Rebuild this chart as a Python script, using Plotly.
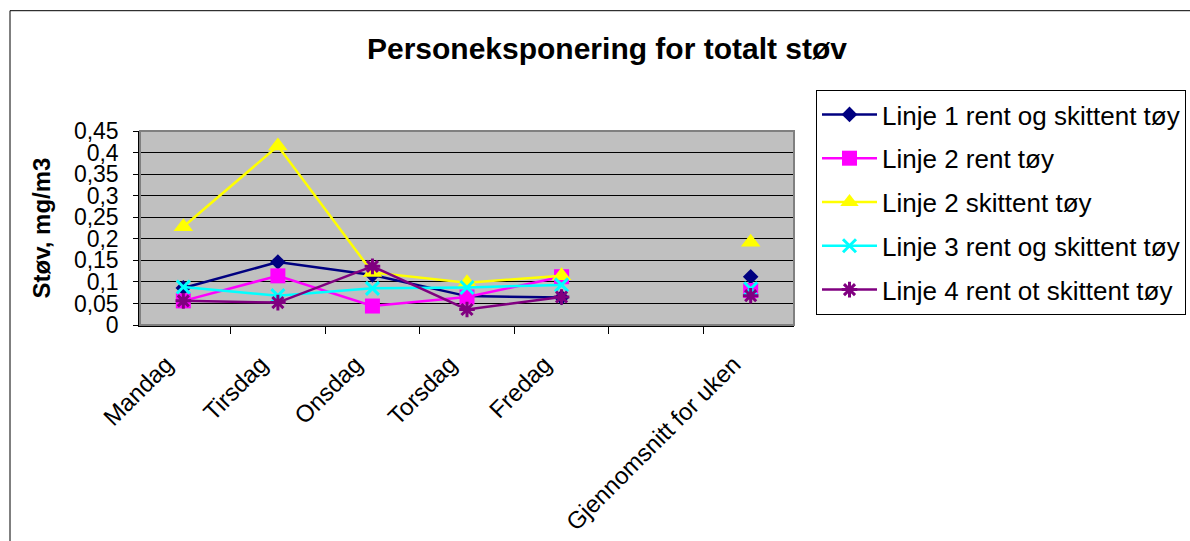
import plotly.graph_objects as go

# Categories on the x axis (blank slot separates the weekly average)
categories = ["Mandag", "Tirsdag", "Onsdag", "Torsdag", "Fredag", " ", "Gjennomsnitt for uken"]

# Dust exposure per line, mg/m3
linje1_rent_skittent = [0.086, 0.146, 0.116, 0.067, 0.064, None, 0.112]
linje2_rent = [0.056, 0.114, 0.044, 0.065, 0.112, None, 0.080]
linje2_skittent = [0.228, 0.415, 0.122, 0.098, 0.114, None, 0.192]
linje3_rent_skittent = [0.088, 0.068, 0.085, 0.087, 0.093, None, 0.084]
linje4_rent_skittent = [0.056, 0.052, 0.136, 0.036, 0.065, None, 0.068]

series_names = [
    "Linje 1 rent og skittent tøy",
    "Linje 2 rent tøy",
    "Linje 2 skittent tøy",
    "Linje 3 rent og skittent tøy",
    "Linje 4 rent ot skittent tøy",
]

y_tick_values = [0, 0.05, 0.1, 0.15, 0.2, 0.25, 0.3, 0.35, 0.4, 0.45]
y_tick_labels = ["0", "0,05", "0,1", "0,15", "0,2", "0,25", "0,3", "0,35", "0,4", "0,45"]

FONT = "Arial, Liberation Sans, sans-serif"

styles = [
    dict(color="#000080", symbol="diamond", size=12, lw=0),
    dict(color="#FF00FF", symbol="square", size=15, lw=0),
    dict(color="#FFFF00", symbol="triangle-up", size=17, lw=0),
    dict(color="#00FFFF", symbol="x-thin-open", size=13, lw=3),
    dict(color="#800080", symbol="asterisk-open", size=13, lw=3),
]

all_series = [linje1_rent_skittent, linje2_rent, linje2_skittent,
              linje3_rent_skittent, linje4_rent_skittent]

fig = go.Figure()
for i, (name, vals, st) in enumerate(zip(series_names, all_series, styles)):
    fig.add_trace(go.Scatter(
        x=categories,
        y=vals,
        name=name,
        mode="lines+markers",
        connectgaps=False,
        legendgroup=f"g{i}",
        line=dict(color=st["color"], width=2.5),
        marker=dict(
            symbol=st["symbol"],
            size=st["size"],
            color=st["color"],
            line=dict(color=st["color"], width=st["lw"]),
        ),
    ))

fig.update_layout(
    width=1190,
    height=541,
    margin=dict(l=140, r=396, t=131, b=216, autoexpand=False),
    paper_bgcolor="white",
    plot_bgcolor="#C0C0C0",
    font=dict(family=FONT, size=23, color="black"),
    title=dict(
        text="<b>Personeksponering for totalt støv</b>",
        font=dict(family=FONT, size=30, color="black"),
        x=607 / 1190,
        xanchor="center",
        xref="container",
        y=1 - 48 / 541,
        yanchor="middle",
        yref="container",
    ),
    legend=dict(
        xref="container",
        yref="container",
        x=816 / 1190,
        y=1 - 90 / 541,
        xanchor="left",
        yanchor="top",
        bgcolor="white",
        bordercolor="black",
        borderwidth=1,
        font=dict(family=FONT, size=26, color="black"),
        tracegroupgap=7,
        traceorder="grouped",
        itemwidth=55,
    ),
    showlegend=True,
)

fig.update_xaxes(
    type="category",
    categoryorder="array",
    categoryarray=categories,
    tickson="boundaries",
    ticks="outside",
    ticklen=7,
    tickcolor="black",
    tickangle=-45,
    showline=True,
    linecolor="black",
    linewidth=1.5,
    showgrid=False,
    zeroline=False,
    automargin=False,
    tickfont=dict(family=FONT, size=24, color="black"),
    ticklabelstandoff=14,
    ticklabelshift=-17,
)

fig.update_yaxes(
    range=[0, 0.45],
    tickvals=y_tick_values,
    ticktext=y_tick_labels,
    ticks="outside",
    ticklen=5,
    tickcolor="black",
    showline=True,
    linecolor="black",
    linewidth=1.5,
    showgrid=True,
    gridcolor="black",
    gridwidth=1.2,
    zeroline=False,
    automargin=False,
    tickfont=dict(family=FONT, size=23, color="black"),
    ticklabelstandoff=10,
    title=dict(
        text="<b>Støv, mg/m3</b>",
        font=dict(family=FONT, size=24, color="black"),
        standoff=16,
    ),
)

# Plot area frame and outer chart frame
fig.add_shape(type="rect", xref="paper", yref="paper", x0=0, x1=1, y0=0, y1=1,
              line=dict(color="#808080", width=2), layer="above")
fig.add_shape(type="rect", xref="paper", yref="paper",
              x0=-130 / 654, x1=1.7, y0=-0.2 - 216 / 193.5, y1=1 + 120 / 193.5,
              line=dict(color="black", width=1), layer="below")

fig.write_html("out.html")
